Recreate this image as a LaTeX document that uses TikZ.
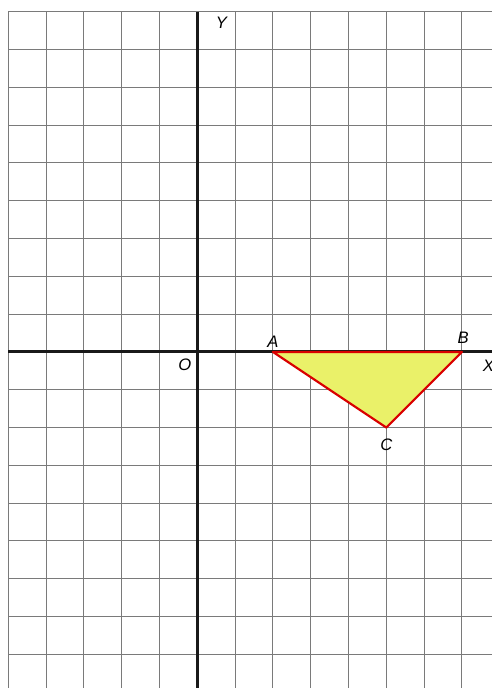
\documentclass[tikz,border=0pt]{standalone}
\usepackage{fontspec}
\setmainfont{Liberation Sans}
\begin{document}
\begin{tikzpicture}[x=1cm,y=1cm,
  gridline/.style={draw=black!52,line width=0.7pt},
  axis/.style={draw=black!90,line width=2.2pt},
  tri/.style={draw=red!85!black,line width=1.6pt,fill=yellow!45!lime!60!white,line join=round},
  lbl/.style={font=\fontsize{12.5}{14}\selectfont\itshape,inner sep=0pt}]
\useasboundingbox (-5.22,-8.89) rectangle (7.79,9.31);
\fill[white] (-5.22,-8.89) rectangle (7.79,9.31);
% grid
\foreach \x in {-5,...,7} \draw[gridline] (\x,9) -- (\x,-8.89);
\foreach \y in {9,8,...,-8} \draw[gridline] (-5,\y) -- (7.79,\y);
% axes
\draw[axis] (-5,0) -- (7.79,0);
\draw[axis] (0,9) -- (0,-8.89);
% triangle
\coordinate (A) at (2,0);
\coordinate (B) at (7,0);
\coordinate (C) at (5,-2);
\filldraw[tri] (A) -- (B) -- (C) -- cycle;
% labels
\node[lbl] (lY) at (0.64,8.70) {Y};
\node[lbl] (lX) at (7.70,-0.36) {X};
\node[lbl] (lO) at (-0.33,-0.34) {O};
\node[lbl] (lA) at (2.0,0.27) {A};
\node[lbl] (lB) at (7.03,0.37) {B};
\node[lbl] (lC) at (5.0,-2.46) {C};
\end{tikzpicture}
\end{document}
